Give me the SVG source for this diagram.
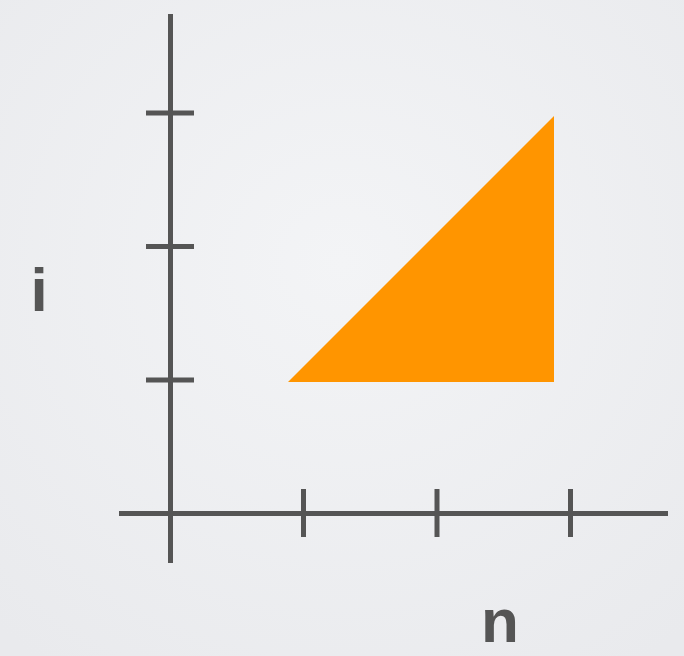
<svg xmlns="http://www.w3.org/2000/svg" width="684" height="656" viewBox="0 0 684 656">
<style>
.ax{stroke:#555555;stroke-width:5;fill:none}
.lbl{font-family:"Liberation Sans",Arial,sans-serif;font-weight:bold;font-size:62px;fill:#555555}
</style>
<defs>
<radialGradient id="bg" cx="50%" cy="40%" r="75%">
<stop offset="0" stop-color="#f3f4f6"/>
<stop offset="1" stop-color="#e9eaed"/>
</radialGradient>
</defs>
<rect width="684" height="656" fill="url(#bg)"/>
<g id="axes">
<line class="ax" x1="170.5" y1="14" x2="170.5" y2="563"/>
<line class="ax" x1="119" y1="513.5" x2="668" y2="513.5"/>
<line class="ax" x1="146" y1="113" x2="194" y2="113"/>
<line class="ax" x1="146" y1="246.5" x2="194" y2="246.5"/>
<line class="ax" x1="146" y1="380" x2="194" y2="380"/>
<line class="ax" x1="303.5" y1="489" x2="303.5" y2="537"/>
<line class="ax" x1="437" y1="489" x2="437" y2="537"/>
<line class="ax" x1="570.5" y1="489" x2="570.5" y2="537"/>
</g>
<g id="region">
<polygon points="288,382 554,382 554,116" fill="#ff9500"/>
</g>
<g id="labels">
<text class="lbl" x="39" y="311" text-anchor="middle">i</text>
<text class="lbl" x="500" y="642" text-anchor="middle">n</text>
</g>
</svg>
